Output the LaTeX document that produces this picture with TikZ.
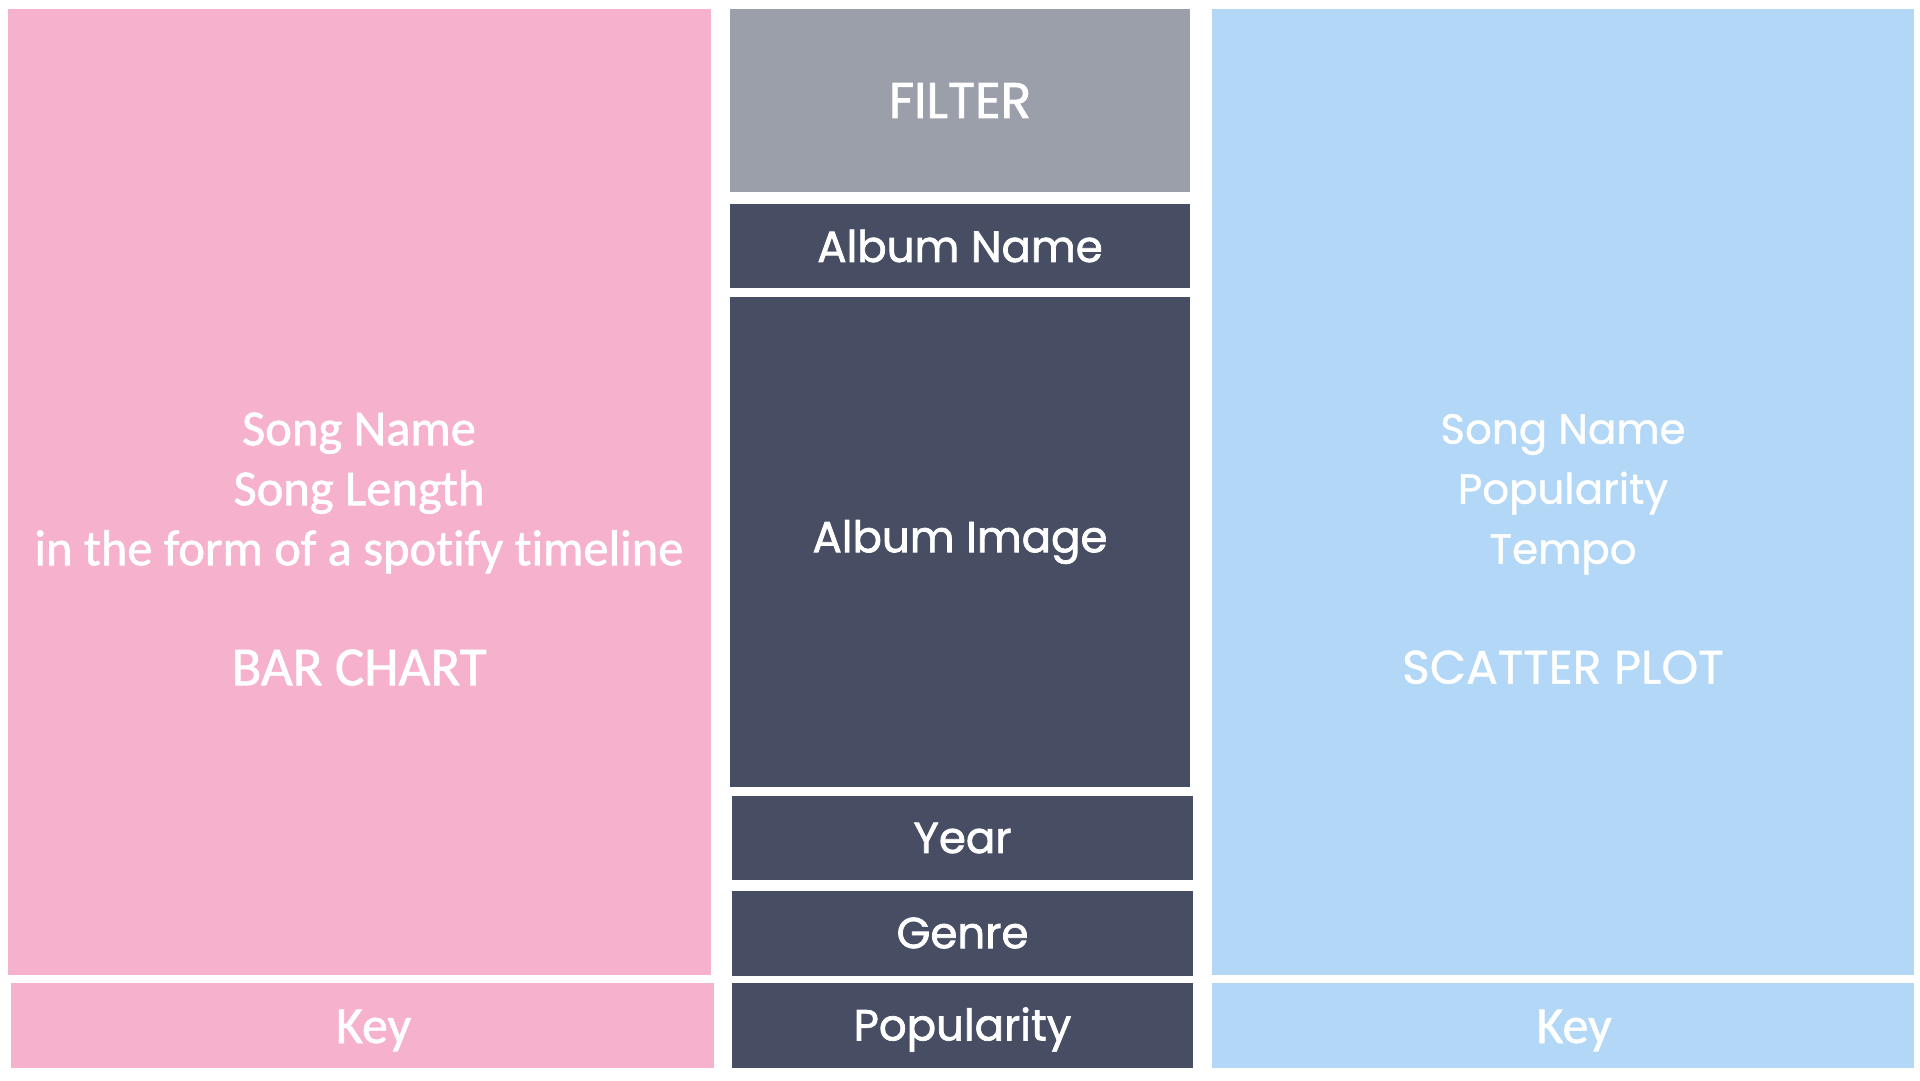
\documentclass[tikz,border=0pt]{standalone}
\usepackage{fontspec}
\newfontfamily\geofont{Poppins}[FakeBold=1.6]
\newfontfamily\geolight{Poppins}[FakeBold=0.9]
\newfontfamily\narrowfont{Carlito}[FakeBold=1.2, Ligatures=NoCommon]
\definecolor{barpink}{HTML}{F6B2CD}
\definecolor{scatblue}{HTML}{B3D7F7}
\definecolor{filtgrey}{HTML}{9A9FAA}
\definecolor{slate}{HTML}{474E63}
\tikzset{
  tile/.style 2 args={draw=none, inner sep=0pt, minimum width=#1pt, minimum height=#2pt},
  lbl/.style={text=white, align=center},
  geotext/.style={lbl, font=\geofont\fontsize{43.5}{60}\selectfont},
  bluetext/.style={lbl, font=\geolight\fontsize{42}{60}\selectfont},
  narrowtext/.style={lbl, font=\narrowfont\fontsize{50.5}{60}\selectfont}
}
\begin{document}
\begin{tikzpicture}[x=1pt, y=-1pt]
\useasboundingbox [fill=white] (0,0) rectangle (1920,1080);
%% left panel: bar chart
\node [tile={703}{966}, fill=barpink] (bar) at (359.5,492) {};
\node [tile={703}{85}, fill=barpink] (barkey) at (362.5,1025.5) {};
\node [narrowtext, font=\narrowfont\fontsize{52}{60}\selectfont] at ([xshift=11pt, yshift=-5pt]barkey.center) {Key};
\node [narrowtext] (bartext) at (359,549) {Song Name\\Song Length\\in the form of a spotify timeline\\[60pt]{\fontsize{55}{60}\selectfont BAR CHART}};
%% middle column
\node [tile={460}{183}, fill=filtgrey, lbl, font=\geofont\fontsize{50}{50}\selectfont] (filter) at (960,100.5) {FILTER};
\node [tile={460}{84}, fill=slate, geotext] (albname) at (960,246) {Album Name};
\node [tile={460}{490}, fill=slate, geotext] (albimg) at (960,542) {Album Image};
\node [tile={461}{84}, fill=slate, geotext] (year) at (962.5,838) {Year};
\node [tile={461}{85}, fill=slate, geotext] (genre) at (962.5,933) {Genre};
\node [tile={461}{85}, fill=slate] (popul) at (962.5,1025.5) {};
\node [geotext] at ([yshift=-4pt]popul.center) {Popularity};
%% right panel: scatter plot
\node [tile={702}{966}, fill=scatblue] (scat) at (1563,492) {};
\node [tile={702}{85}, fill=scatblue] (scatkey) at (1563,1025.5) {};
\node [narrowtext, font=\narrowfont\fontsize{52}{60}\selectfont] at ([xshift=11pt, yshift=-5pt]scatkey.center) {Key};
\node [bluetext] (scattext) at (1563,549) {Song Name\\Popularity\\Tempo\\[60pt]{\fontsize{47}{60}\selectfont SCATTER PLOT}};
\end{tikzpicture}
\end{document}
